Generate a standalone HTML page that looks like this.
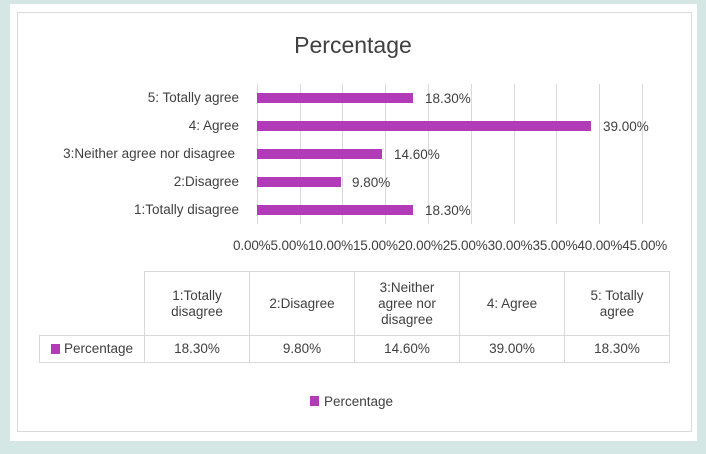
<!DOCTYPE html><html><head><style>
body{margin:0;width:706px;height:454px;background:#d4e7e5;font-family:"Liberation Sans",sans-serif;color:#404040;position:relative;overflow:hidden}
.p{position:absolute;left:10px;top:4px;width:687px;height:437px;background:#fff}
.b{position:absolute;left:17px;top:12px;width:673px;height:418px;border:1px solid #d9d9d9}
.t{position:absolute;font-size:13.5px;white-space:nowrap}
table{position:absolute;left:39px;top:271px;border-collapse:collapse;font-size:13.5px;table-layout:fixed;width:631px}
td{border:1px solid #d9d9d9;text-align:center;padding:0;line-height:16px;white-space:nowrap}
.sq{display:inline-block;width:9px;height:10px;background:#b23cb8;margin-right:4px;vertical-align:-1px}
</style></head><body>
<div class="p"></div><div class="b"></div>
<div class="t" style="left:0;width:706px;text-align:center;top:32px;font-size:23px">Percentage</div>
<svg style="position:absolute;left:0;top:0" width="706" height="454">
<g stroke="#d9d9d9" stroke-width="1">
<line x1="257.5" y1="84" x2="257.5" y2="224"/><line x1="300.5" y1="84" x2="300.5" y2="224"/><line x1="342.5" y1="84" x2="342.5" y2="224"/><line x1="385.5" y1="84" x2="385.5" y2="224"/><line x1="428.5" y1="84" x2="428.5" y2="224"/><line x1="471.5" y1="84" x2="471.5" y2="224"/><line x1="514.5" y1="84" x2="514.5" y2="224"/><line x1="556.5" y1="84" x2="556.5" y2="224"/><line x1="599.5" y1="84" x2="599.5" y2="224"/><line x1="642.5" y1="84" x2="642.5" y2="224"/>
</g>
<g fill="#b23cb8">
<rect x="257" y="93" width="156" height="10"/><rect x="257" y="121" width="334" height="10"/><rect x="257" y="149" width="125" height="10"/><rect x="257" y="177" width="84" height="10"/><rect x="257" y="205" width="156" height="10"/>
<rect x="310" y="396" width="9" height="10"/>
</g></svg>
<div class="t" style="right:467px;top:90px">5: Totally agree</div>
<div class="t" style="right:467px;top:118px">4: Agree</div>
<div class="t" style="right:471px;top:146px">3:Neither agree nor disagree</div>
<div class="t" style="right:467px;top:174px">2:Disagree</div>
<div class="t" style="right:467px;top:202px">1:Totally disagree</div>
<div class="t" style="left:425px;top:91px">18.30%</div>
<div class="t" style="left:603px;top:119px">39.00%</div>
<div class="t" style="left:394px;top:147px">14.60%</div>
<div class="t" style="left:352px;top:175px">9.80%</div>
<div class="t" style="left:425px;top:203px">18.30%</div>
<div class="t" style="left:233px;top:238px;letter-spacing:-0.15px">0.00%5.00%10.00%15.00%20.00%25.00%30.00%35.00%40.00%45.00%</div>
<table><tr style="height:64px"><td style="border-top:none;border-left:none"></td><td>1:Totally<br>disagree</td><td>2:Disagree</td><td>3:Neither<br>agree nor<br>disagree</td><td>4: Agree</td><td>5: Totally<br>agree</td></tr>
<tr style="height:27px"><td><span class="sq"></span>Percentage</td><td>18.30%</td><td>9.80%</td><td>14.60%</td><td>39.00%</td><td>18.30%</td></tr></table>
<div class="t" style="left:324px;top:394px">Percentage</div>
</body></html>
